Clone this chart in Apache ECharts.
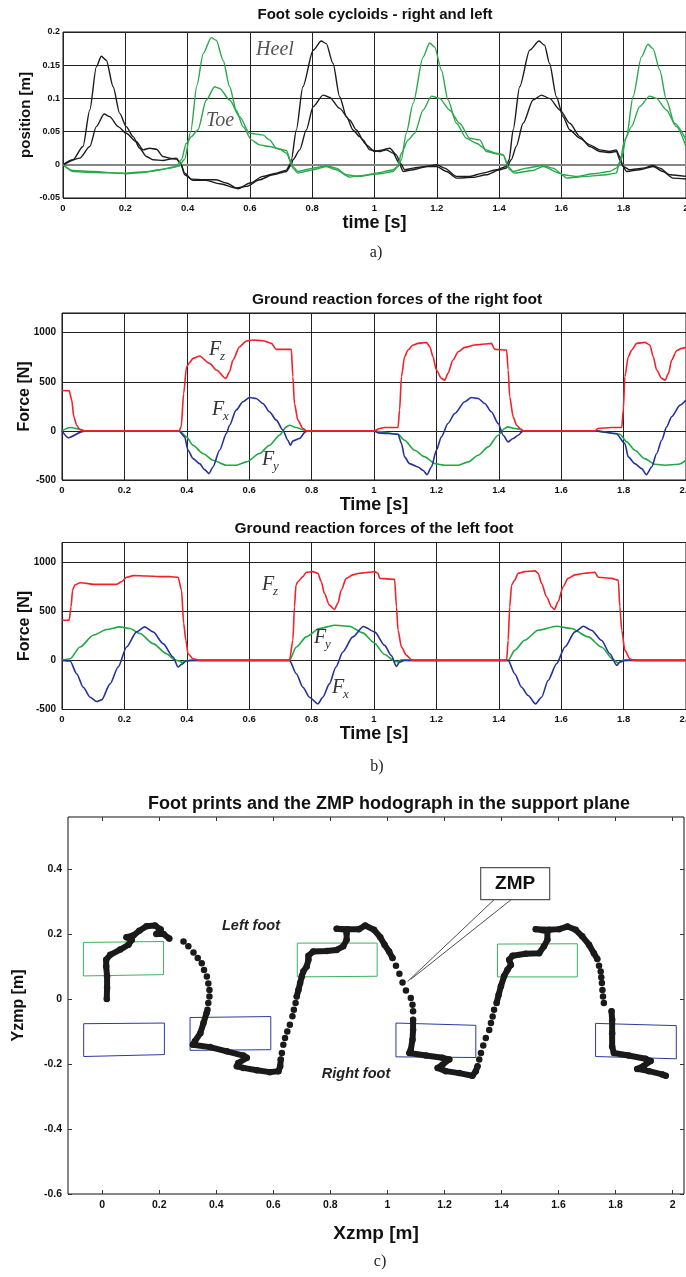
<!DOCTYPE html>
<html><head><meta charset="utf-8">
<script src="https://cdn.jsdelivr.net/npm/echarts@6/dist/echarts.min.js"></script>
<style>html,body{margin:0;padding:0;background:#fff}#c{width:686px;height:1277px}</style>
</head><body><div id="c"></div>
<script>
// ---------- a) Foot sole cycloids ----------
const rightHeel = [[0,0],[0.032,0.0075],[0.064,0.0275],[0.086,0.0825],[0.107,0.1475],[0.123,0.1635],[0.139,0.1575],[0.161,0.1175],[0.182,0.0775],[0.203,0.0575],[0.225,0.0425],[0.246,0.025],[0.268,0.0125],[0.289,0.0075],[0.321,0.0065],[0.35,0.009],[0.364,0.01],[0.377,0.0025],[0.391,-0.0125],[0.412,-0.0215],[0.45,-0.0225],[0.492,-0.0225],[0.524,-0.0275],[0.562,-0.036],[0.6,-0.0275],[0.642,-0.0175],[0.685,-0.0125],[0.717,-0.008],[0.728,0],[0.733,0.0075],[0.749,0.0525],[0.77,0.1175],[0.803,0.1725],[0.829,0.1865],[0.845,0.1825],[0.867,0.1525],[0.888,0.1025],[0.91,0.0725],[0.931,0.0525],[0.952,0.0425],[0.974,0.03],[1.0,0.02],[1.027,0.0225],[1.049,0.025],[1.07,0.015],[1.083,0.0025],[1.097,-0.0075],[1.124,-0.005],[1.166,-0.0025],[1.199,0],[1.225,-0.005],[1.263,-0.0175],[1.306,-0.0175],[1.348,-0.0125],[1.391,-0.0075],[1.423,-0.0025],[1.432,0.0075],[1.445,0.0525],[1.466,0.1175],[1.498,0.1725],[1.528,0.1865],[1.546,0.18],[1.562,0.1525],[1.584,0.1025],[1.605,0.0725],[1.627,0.0525],[1.659,0.04],[1.691,0.03],[1.723,0.0225],[1.755,0.02],[1.776,0.0225],[1.787,0.0125],[1.798,-0.0025],[1.819,-0.0075],[1.862,-0.005],[1.894,-0.001],[1.916,-0.005],[1.948,-0.015],[2.0,-0.0175]];
const rightToe = [[0,0],[0.054,0.01],[0.086,0.0275],[0.107,0.0575],[0.132,0.0765],[0.15,0.0725],[0.177,0.0575],[0.203,0.0475],[0.235,0.035],[0.257,0.0225],[0.278,0.025],[0.3,0.0235],[0.321,0.0125],[0.343,0.01],[0.364,0.0085],[0.377,0.0025],[0.391,-0.015],[0.417,-0.0235],[0.46,-0.0235],[0.503,-0.0285],[0.556,-0.035],[0.589,-0.0325],[0.631,-0.0225],[0.674,-0.015],[0.717,-0.01],[0.733,0],[0.738,0.0075],[0.76,0.0225],[0.781,0.0525],[0.803,0.0875],[0.835,0.105],[0.856,0.1015],[0.888,0.085],[0.92,0.0675],[0.942,0.0525],[0.963,0.0375],[0.985,0.0225],[1.017,0.02],[1.038,0.0225],[1.06,0.0175],[1.079,0.0025],[1.092,-0.01],[1.124,-0.0075],[1.166,-0.0025],[1.199,-0.0025],[1.231,-0.01],[1.263,-0.02],[1.316,-0.019],[1.359,-0.015],[1.402,-0.0075],[1.423,-0.005],[1.439,0.0075],[1.455,0.0275],[1.477,0.0625],[1.509,0.0975],[1.536,0.105],[1.562,0.1],[1.595,0.0825],[1.627,0.0625],[1.659,0.0425],[1.691,0.0275],[1.723,0.02],[1.755,0.0185],[1.776,0.02],[1.792,0.0025],[1.809,-0.01],[1.851,-0.0075],[1.894,-0.0025],[1.926,-0.01],[1.958,-0.02],[2.0,-0.0215]];
const leftHeel = [[0,0],[0.032,-0.01],[0.096,-0.0115],[0.203,-0.0125],[0.278,-0.01],[0.343,-0.005],[0.372,-0.002],[0.39,0.008],[0.41,0.05],[0.43,0.12],[0.45,0.1675],[0.476,0.1915],[0.492,0.1875],[0.514,0.1575],[0.535,0.1175],[0.556,0.0825],[0.578,0.0575],[0.605,0.0375],[0.631,0.03],[0.663,0.0275],[0.696,0.0235],[0.717,0.0175],[0.738,-0.0025],[0.754,-0.01],[0.803,-0.005],[0.845,-0.0015],[0.877,-0.005],[0.91,-0.015],[0.952,-0.0175],[1.006,-0.0125],[1.06,-0.0075],[1.075,-0.0025],[1.086,0.0075],[1.102,0.0475],[1.124,0.0925],[1.156,0.1625],[1.177,0.1835],[1.193,0.1775],[1.215,0.1425],[1.236,0.0975],[1.263,0.0625],[1.295,0.04],[1.327,0.0325],[1.359,0.0225],[1.391,0.0175],[1.413,0.015],[1.429,-0.0025],[1.445,-0.01],[1.488,-0.005],[1.541,-0.001],[1.573,-0.005],[1.605,-0.015],[1.648,-0.0175],[1.702,-0.0135],[1.755,-0.01],[1.776,-0.005],[1.792,0.0075],[1.809,0.0425],[1.83,0.1025],[1.857,0.1625],[1.878,0.1815],[1.894,0.175],[1.916,0.1425],[1.937,0.0975],[1.963,0.0625],[2.0,0.0375]];
const leftToe = [[0,0],[0.032,-0.0085],[0.096,-0.01],[0.203,-0.0135],[0.257,-0.0115],[0.31,-0.0075],[0.364,-0.0025],[0.38,0.0075],[0.396,0.0325],[0.412,0.0425],[0.433,0.0525],[0.46,0.0975],[0.487,0.1175],[0.503,0.115],[0.535,0.0975],[0.567,0.0725],[0.599,0.0475],[0.642,0.045],[0.663,0.0375],[0.685,0.025],[0.717,0.0215],[0.738,-0.005],[0.754,-0.0125],[0.803,-0.0075],[0.845,-0.0025],[0.877,-0.0075],[0.92,-0.0185],[0.952,-0.0165],[1.017,-0.0135],[1.06,-0.01],[1.075,-0.0025],[1.086,0.0175],[1.108,0.0375],[1.129,0.0475],[1.156,0.0825],[1.183,0.1035],[1.209,0.1],[1.241,0.0825],[1.273,0.0625],[1.306,0.04],[1.338,0.0375],[1.359,0.02],[1.391,0.0165],[1.413,0.015],[1.434,-0.0075],[1.45,-0.0125],[1.509,-0.0085],[1.541,-0.0025],[1.595,-0.0125],[1.616,-0.02],[1.68,-0.0175],[1.744,-0.015],[1.776,-0.0125],[1.787,0.0025],[1.803,0.0375],[1.825,0.0575],[1.851,0.0875],[1.883,0.1035],[1.905,0.1],[1.937,0.0825],[1.969,0.0575],[2.0,0.0275]];

// ---------- b) Ground reaction forces ----------
const forceTicks = [-500,0,500,1000];
const rightFz = [[0,411],[0.023,409],[0.031,316],[0.038,143],[0.047,58],[0.057,14],[0.068,0],[0.375,0],[0.382,41],[0.39,380],[0.399,650],[0.41,700],[0.42,738],[0.441,762],[0.473,687],[0.495,619],[0.525,534],[0.537,602],[0.548,721],[0.569,857],[0.591,915],[0.612,925],[0.644,918],[0.671,891],[0.687,830],[0.735,830],[0.74,551],[0.745,279],[0.756,109],[0.772,24],[0.783,0],[1.0,0],[1.018,24],[1.034,34],[1.077,34],[1.082,211],[1.088,551],[1.098,755],[1.109,823],[1.125,874],[1.141,891],[1.168,901],[1.179,857],[1.189,755],[1.2,619],[1.216,534],[1.227,517],[1.237,585],[1.253,721],[1.27,806],[1.291,850],[1.323,874],[1.355,884],[1.376,891],[1.387,830],[1.425,823],[1.43,619],[1.435,347],[1.446,143],[1.457,58],[1.473,7],[1.478,0],[1.708,0],[1.718,24],[1.761,34],[1.794,34],[1.799,211],[1.804,551],[1.815,755],[1.826,823],[1.842,891],[1.868,901],[1.884,874],[1.895,755],[1.906,619],[1.922,534],[1.933,517],[1.944,585],[1.954,721],[1.97,816],[1.986,840],[2.0,850]];
const rightFx = [[0,0],[0.02,-70],[0.068,-5],[0.075,0],[0.375,0],[0.393,-61],[0.404,-197],[0.42,-282],[0.441,-333],[0.457,-394],[0.471,-435],[0.484,-367],[0.505,-197],[0.527,-27],[0.537,58],[0.558,211],[0.58,296],[0.601,340],[0.622,330],[0.644,279],[0.665,194],[0.687,109],[0.708,7],[0.724,-95],[0.732,-146],[0.74,-102],[0.761,-78],[0.78,-10],[0.788,0],[1.0,0],[1.013,-20],[1.077,-34],[1.088,-129],[1.098,-265],[1.114,-333],[1.141,-367],[1.157,-401],[1.17,-445],[1.184,-367],[1.2,-197],[1.216,-61],[1.237,75],[1.259,177],[1.291,296],[1.312,340],[1.334,330],[1.355,279],[1.376,194],[1.398,75],[1.414,-44],[1.43,-112],[1.446,-78],[1.462,-44],[1.478,0],[1.708,0],[1.776,-27],[1.804,-129],[1.815,-265],[1.836,-333],[1.858,-384],[1.873,-445],[1.89,-367],[1.906,-231],[1.922,-95],[1.938,41],[1.954,143],[1.981,262],[2.0,313]];
const rightFy = [[0,0],[0.026,34],[0.063,14],[0.073,0],[0.375,0],[0.399,-61],[0.42,-146],[0.452,-231],[0.484,-299],[0.527,-350],[0.559,-350],[0.591,-316],[0.633,-231],[0.665,-146],[0.697,-44],[0.719,41],[0.729,58],[0.75,34],[0.777,7],[0.783,0],[1.0,0],[1.077,-34],[1.098,-95],[1.13,-197],[1.163,-265],[1.195,-333],[1.227,-350],[1.27,-350],[1.302,-316],[1.334,-248],[1.366,-163],[1.398,-44],[1.419,24],[1.428,41],[1.451,24],[1.473,17],[1.478,0],[1.708,0],[1.788,-34],[1.81,-112],[1.836,-197],[1.868,-282],[1.9,-340],[1.933,-350],[1.976,-340],[2.0,-299]];
const leftFz = [[0,409],[0.023,409],[0.029,546],[0.034,716],[0.041,767],[0.058,791],[0.079,784],[0.1,774],[0.132,774],[0.175,774],[0.191,801],[0.207,846],[0.228,863],[0.271,859],[0.313,853],[0.345,853],[0.372,846],[0.383,716],[0.39,375],[0.397,205],[0.404,68],[0.42,17],[0.441,0],[0.729,0],[0.74,205],[0.745,546],[0.75,767],[0.756,801],[0.772,853],[0.783,897],[0.804,904],[0.82,887],[0.831,801],[0.841,682],[0.857,563],[0.873,518],[0.884,580],[0.895,716],[0.911,835],[0.932,870],[0.953,887],[0.985,897],[1.002,904],[1.013,887],[1.018,835],[1.066,825],[1.072,546],[1.077,307],[1.088,136],[1.104,51],[1.12,7],[1.125,0],[1.425,0],[1.43,205],[1.435,546],[1.441,767],[1.451,818],[1.462,887],[1.483,904],[1.516,911],[1.526,887],[1.537,784],[1.553,648],[1.569,546],[1.578,518],[1.59,597],[1.606,750],[1.622,835],[1.644,870],[1.676,887],[1.708,897],[1.719,846],[1.761,835],[1.783,818],[1.788,546],[1.794,307],[1.804,102],[1.82,17],[1.831,0],[2.0,0]];
const leftFx = [[0,0],[0.026,-7],[0.047,-136],[0.068,-273],[0.09,-375],[0.111,-419],[0.127,-402],[0.154,-239],[0.18,-68],[0.207,136],[0.239,290],[0.265,341],[0.292,290],[0.324,171],[0.356,34],[0.372,-68],[0.383,-41],[0.399,-7],[0.415,0],[0.729,0],[0.751,-136],[0.772,-273],[0.793,-375],[0.82,-443],[0.836,-375],[0.857,-239],[0.878,-68],[0.9,85],[0.932,239],[0.966,345],[1.002,290],[1.034,153],[1.055,51],[1.072,-61],[1.082,-17],[1.098,0],[1.43,0],[1.451,-136],[1.473,-273],[1.494,-358],[1.518,-443],[1.537,-375],[1.558,-205],[1.585,-34],[1.612,136],[1.644,290],[1.671,348],[1.697,307],[1.729,205],[1.756,68],[1.778,-51],[1.788,-17],[1.804,0],[2.0,0]];
const leftFy = [[0,0],[0.026,17],[0.058,136],[0.1,256],[0.143,314],[0.186,341],[0.218,324],[0.25,273],[0.292,171],[0.335,68],[0.361,7],[0.377,-7],[0.385,-25],[0.393,-7],[0.41,0],[0.729,0],[0.751,136],[0.783,239],[0.825,324],[0.873,358],[0.921,348],[0.964,280],[1.0,180],[1.034,60],[1.066,-7],[1.077,-17],[1.088,7],[1.11,0],[1.43,0],[1.451,102],[1.483,205],[1.526,307],[1.585,348],[1.633,324],[1.687,239],[1.729,136],[1.767,7],[1.783,-27],[1.799,0],[1.83,5],[1.85,0],[2.0,0]];

// ---------- c) ZMP hodograph ----------
const zmpXTicks = [0,0.2,0.4,0.6,0.8,1,1.2,1.4,1.6,1.8,2];
const zmpYTicks = [-0.6,-0.4,-0.2,0,0.2,0.4];
const leftFootprints = [
  [[-0.066,0.174],[0.215,0.177],[0.215,0.075],[-0.066,0.071],[-0.066,0.174]],
  [[0.684,0.172],[0.964,0.172],[0.964,0.07],[0.684,0.068],[0.684,0.172]],
  [[1.386,0.169],[1.666,0.17],[1.666,0.068],[1.386,0.068],[1.386,0.169]]
];
const rightFootprints = [
  [[-0.065,-0.076],[0.218,-0.074],[0.218,-0.171],[-0.065,-0.177],[-0.065,-0.076]],
  [[0.308,-0.057],[0.591,-0.054],[0.591,-0.156],[0.308,-0.158],[0.308,-0.057]],
  [[1.03,-0.074],[1.31,-0.081],[1.31,-0.18],[1.03,-0.178],[1.03,-0.074]],
  [[1.73,-0.075],[2.013,-0.082],[2.013,-0.184],[1.73,-0.177],[1.73,-0.075]]
];
const zmpStance = [
  [[0.016,0],[0.017,0.035],[0.017,0.07],[0.014,0.1],[0.014,0.121],[0.028,0.136],[0.063,0.152],[0.092,0.167],[0.104,0.182],[0.085,0.19],[0.11,0.196],[0.13,0.21],[0.155,0.224],[0.185,0.226],[0.205,0.214],[0.19,0.2],[0.215,0.2],[0.235,0.186]],
  [[0.366,-0.043],[0.355,-0.074],[0.344,-0.105],[0.325,-0.13],[0.318,-0.141],[0.378,-0.148],[0.437,-0.161],[0.495,-0.174],[0.507,-0.181],[0.477,-0.197],[0.472,-0.207],[0.495,-0.212],[0.542,-0.219],[0.588,-0.225],[0.618,-0.222],[0.624,-0.207],[0.626,-0.186]],
  [[0.682,0.008],[0.688,0.028],[0.694,0.049],[0.7,0.07],[0.705,0.085],[0.717,0.1],[0.723,0.121],[0.723,0.133],[0.74,0.146],[0.787,0.148],[0.822,0.151],[0.845,0.162],[0.857,0.182],[0.857,0.203],[0.857,0.213],[0.822,0.216],[0.86,0.215],[0.9,0.215],[0.922,0.226],[0.953,0.213],[0.975,0.19],[0.99,0.167],[1.006,0.146],[1.018,0.126]],
  [[1.09,-0.064],[1.09,-0.095],[1.088,-0.125],[1.082,-0.156],[1.077,-0.166],[1.135,-0.174],[1.193,-0.181],[1.217,-0.186],[1.193,-0.202],[1.176,-0.212],[1.205,-0.222],[1.252,-0.228],[1.298,-0.236],[1.31,-0.222],[1.316,-0.207]],
  [[1.383,-0.012],[1.39,0.013],[1.398,0.039],[1.409,0.07],[1.421,0.09],[1.433,0.105],[1.427,0.121],[1.439,0.133],[1.485,0.139],[1.532,0.141],[1.549,0.162],[1.561,0.182],[1.561,0.208],[1.52,0.215],[1.567,0.213],[1.602,0.215],[1.631,0.223],[1.66,0.213],[1.683,0.193],[1.707,0.167],[1.724,0.141],[1.736,0.123]],
  [[1.786,-0.038],[1.788,-0.064],[1.788,-0.105],[1.788,-0.146],[1.794,-0.166],[1.846,-0.174],[1.905,-0.184],[1.923,-0.191],[1.9,-0.205],[1.876,-0.215],[1.917,-0.222],[1.964,-0.232],[1.976,-0.236]]
];
const zmpSwingDots = [
  [0.285,0.177],[0.302,0.162],[0.32,0.143],[0.335,0.126],[0.349,0.11],[0.357,0.089],[0.367,0.069],[0.372,0.048],[0.376,0.028],[0.376,0.008],[0.372,-0.012],[0.369,-0.033],
  [0.63,-0.166],[0.635,-0.141],[0.641,-0.12],[0.649,-0.1],[0.658,-0.079],[0.667,-0.053],[0.672,-0.033],[0.678,-0.012],
  [1.03,0.102],[1.042,0.078],[1.053,0.051],[1.065,0.026],[1.082,0.003],[1.088,-0.018],[1.09,-0.038],
  [1.322,-0.186],[1.328,-0.166],[1.336,-0.143],[1.345,-0.12],[1.357,-0.095],[1.363,-0.074],[1.369,-0.054],[1.374,-0.033],
  [1.742,0.102],[1.748,0.085],[1.75,0.067],[1.752,0.049],[1.754,0.028],[1.756,0.008],[1.759,-0.012]
];
const zmpCalloutTip = [1.071, 0.054];
const zmpCalloutBox = [1.448, 0.355];

// ---------- chart ----------
const FONT = "'Liberation Sans', Arial, sans-serif";
const SERIF = "'Liberation Serif', 'DejaVu Serif', serif";
const BLACK = '#1c1c1c', GREEN = '#2aa84a', RED = '#f0222a', BLUE = '#25319a', FGREEN = '#20a845';

const chart = echarts.init(document.getElementById('c'));

function fmtA(v){ return String(+v.toFixed(2)); }
function fmtT(v){ return String(+v.toFixed(1)); }
function fmtT2(v){ return Math.abs(v-2) < 1e-9 ? '2.0' : String(+v.toFixed(1)); }

function tAxis(gi, fmt, name, gap){
  return {type:'value', gridIndex:gi, min:0, max:2, interval:0.2,
    axisLine:{show:false, onZero:false}, axisTick:{show:false},
    splitLine:{show:true, lineStyle:{color:'#222', width:1}},
    axisLabel:{fontFamily:FONT, fontWeight:'bold', fontSize:9.5, color:'#111', margin:5, formatter:fmt, showMinLabel:true, showMaxLabel:true},
    name:name, nameLocation:'middle', nameGap:gap,
    nameTextStyle:{fontFamily:FONT, fontWeight:'bold', fontSize:18, color:'#111'}};
}
function fAxis(gi){
  return {type:'value', gridIndex:gi, min:-500, max:1200, interval:500,
    axisLine:{show:false, onZero:false}, axisTick:{show:false},
    splitLine:{show:true, lineStyle:{color:'#222', width:1}},
    axisLabel:{fontFamily:FONT, fontWeight:'bold', fontSize:10, color:'#111', margin:6, customValues:forceTicks, formatter:v=>String(v)},
    name:'Force [N]', nameLocation:'middle', nameGap:29, nameMoveOverlap:false,
    nameTextStyle:{fontFamily:FONT, fontWeight:'bold', fontSize:16, color:'#111'}};
}
function ln(data, color, xi, yi, w){
  return {type:'line', data:data, xAxisIndex:xi, yAxisIndex:yi, showSymbol:false, symbol:'none',
    smooth:0.25, smoothMonotone:'x', lineStyle:{color:color, width:w||1.4}, silent:true, z:3};
}
const gridBox = {show:true, borderColor:'#111', borderWidth:1, backgroundColor:'transparent', outerBoundsMode:'none', containLabel:false};

const series = [
  Object.assign(ln(rightHeel, BLACK, 0, 0), {markLine:{silent:true, symbol:'none', label:{show:false}, lineStyle:{color:'#858585', width:2, type:'solid'}, data:[{yAxis:0}], z:1}}),
  ln(rightToe, BLACK, 0, 0),
  ln(leftHeel, GREEN, 0, 0),
  ln(leftToe, GREEN, 0, 0),
  ln(rightFy, FGREEN, 1, 1, 1.6),
  ln(rightFx, BLUE, 1, 1, 1.6),
  ln(rightFz, RED, 1, 1, 1.6),
  ln(leftFy, FGREEN, 2, 2, 1.6),
  ln(leftFx, BLUE, 2, 2, 1.6),
  ln(leftFz, RED, 2, 2, 1.6)
];
leftFootprints.forEach(p => series.push({type:'line', data:p, xAxisIndex:3, yAxisIndex:3, showSymbol:false, symbol:'none', lineStyle:{color:'#3ab55c', width:1}, silent:true, z:2}));
rightFootprints.forEach(p => series.push({type:'line', data:p, xAxisIndex:3, yAxisIndex:3, showSymbol:false, symbol:'none', lineStyle:{color:'#2c3a9e', width:1}, silent:true, z:2}));
zmpStance.forEach(p => series.push({type:'line', data:p, xAxisIndex:3, yAxisIndex:3, symbol:'circle', symbolSize:6.5, showSymbol:true, showAllSymbol:true,
  itemStyle:{color:'#1a1a1a', opacity:1}, lineStyle:{color:'#1a1a1a', width:6, cap:'round', join:'round'}, silent:true, z:4}));
series.push({type:'scatter', data:zmpSwingDots, xAxisIndex:3, yAxisIndex:3, symbol:'circle', symbolSize:6.5, itemStyle:{color:'#1a1a1a', opacity:1}, silent:true, z:4});

const cXAxis = (extra) => Object.assign({type:'value', gridIndex:3, min:-0.12, max:2.04,
  axisLine:{show:false, onZero:false}, splitLine:{show:false},
  axisTick:{show:true, inside:true, length:4, lineStyle:{color:'#333'}, customValues:zmpXTicks},
  axisLabel:{show:true, customValues:zmpXTicks, fontFamily:FONT, fontWeight:'bold', fontSize:10.5, color:'#111', margin:6, formatter:v=>String(+v.toFixed(1))}}, extra);
const cYAxis = (extra) => Object.assign({type:'value', gridIndex:3, min:-0.6, max:0.56,
  axisLine:{show:false, onZero:false}, splitLine:{show:false},
  axisTick:{show:true, inside:true, length:4, lineStyle:{color:'#333'}, customValues:zmpYTicks},
  axisLabel:{show:true, customValues:zmpYTicks, fontFamily:FONT, fontWeight:'bold', fontSize:10.5, color:'#111', margin:6, formatter:v=>String(+v.toFixed(1))}}, extra);

const option = {
  animation:false,
  backgroundColor:'#fff',
  grid:[
    Object.assign({left:63, right:0, top:32, height:166}, gridBox),
    Object.assign({left:62, right:0, top:313, height:167}, gridBox),
    Object.assign({left:62, right:0, top:542.5, height:167}, gridBox),
    Object.assign({left:68, right:2, top:817, height:377}, gridBox)
  ],
  xAxis:[
    tAxis(0, fmtT, 'time [s]', 15),
    tAxis(1, fmtT2, 'Time [s]', 14),
    tAxis(2, fmtT2, 'Time [s]', 16),
    cXAxis({position:'bottom', name:'Xzmp [m]', nameLocation:'middle', nameGap:30, nameTextStyle:{fontFamily:FONT, fontWeight:'bold', fontSize:19, color:'#111'}}),
    cXAxis({position:'top', axisLabel:{show:false}})
  ],
  yAxis:[
    {type:'value', gridIndex:0, min:-0.05, max:0.2, interval:0.05,
      axisLine:{show:false, onZero:false}, axisTick:{show:false},
      splitLine:{show:true, lineStyle:{color:'#222', width:1}},
      axisLabel:{fontFamily:FONT, fontWeight:'bold', fontSize:9, color:'#111', margin:3, formatter:fmtA},
      name:'position [m]', nameLocation:'middle', nameGap:30, nameMoveOverlap:false,
      nameTextStyle:{fontFamily:FONT, fontWeight:'bold', fontSize:15, color:'#111'}},
    fAxis(1), fAxis(2),
    cYAxis({position:'left', name:'Yzmp [m]', nameLocation:'middle', nameGap:41, nameMoveOverlap:false, nameTextStyle:{fontFamily:FONT, fontWeight:'bold', fontSize:16, color:'#111'}}),
    cYAxis({position:'right', axisLabel:{show:false}})
  ],
  series:series
};
chart.setOption(option);

// ---------- annotations ----------
function txt(x, y, s, size, opts){
  return {type:'text', x:x, y:y, silent:true, z:50,
    style:Object.assign({text:s, fontFamily:FONT, fontWeight:'bold', fontSize:size, fill:'#111', align:'center', verticalAlign:'middle'}, (opts||{}))};
}
function fLabel(x, y, sub){
  return [
    {type:'text', x:x, y:y, silent:true, z:50, style:{text:'F', fontFamily:SERIF, fontStyle:'italic', fontSize:20, fill:'#333', align:'left', verticalAlign:'middle'}},
    {type:'text', x:x+11, y:y+7, silent:true, z:50, style:{text:sub, fontFamily:SERIF, fontStyle:'italic', fontSize:13, fill:'#333', align:'left', verticalAlign:'middle'}}
  ];
}
const tip = chart.convertToPixel({gridIndex:3}, zmpCalloutTip);
const box = chart.convertToPixel({gridIndex:3}, zmpCalloutBox);
const bw = 69, bh = 32;
const g = [
  txt(375, 15, 'Foot sole cycloids - right and left', 15),
  txt(397, 300, 'Ground reaction forces of the right foot', 15.5),
  txt(374, 529, 'Ground reaction forces of the left foot', 15.5),
  txt(389, 804, 'Foot prints and the ZMP hodograph in the support plane', 18),
  txt(376, 253, 'a)', 16, {fontFamily:SERIF, fontWeight:'normal', fill:'#222'}),
  txt(377, 767, 'b)', 16, {fontFamily:SERIF, fontWeight:'normal', fill:'#222'}),
  txt(380, 1262, 'c)', 16, {fontFamily:SERIF, fontWeight:'normal', fill:'#222'}),
  txt(275, 50, 'Heel', 20, {fontFamily:SERIF, fontWeight:'normal', fontStyle:'italic', fill:'#555'}),
  txt(220, 121, 'Toe', 20, {fontFamily:SERIF, fontWeight:'normal', fontStyle:'italic', fill:'#555'}),
  txt(251, 926, 'Left foot', 14.5, {fontStyle:'italic', fill:'#222'}),
  txt(356, 1074, 'Right foot', 14.5, {fontStyle:'italic', fill:'#222'}),
  {type:'polyline', silent:true, z:40, shape:{points:[[box[0]-21, box[1]+bh/2], [tip[0], tip[1]]]}, style:{stroke:'#222', lineWidth:0.8, fill:null}},
  {type:'polyline', silent:true, z:40, shape:{points:[[box[0]-4, box[1]+bh/2], [tip[0]+3, tip[1]-2]]}, style:{stroke:'#222', lineWidth:0.8, fill:null}},
  {type:'rect', silent:true, z:41, shape:{x:box[0]-bw/2, y:box[1]-bh/2, width:bw, height:bh}, style:{fill:'#fff', stroke:'#555', lineWidth:1.2}},
  txt(box[0], box[1], 'ZMP', 19, {fill:'#111'})
].concat(fLabel(209, 350, 'z'), fLabel(212, 410, 'x'), fLabel(262, 460, 'y'),
         fLabel(262, 585, 'z'), fLabel(314, 638, 'y'), fLabel(332, 688, 'x'));
chart.setOption({graphic:g});
</script></body></html>
